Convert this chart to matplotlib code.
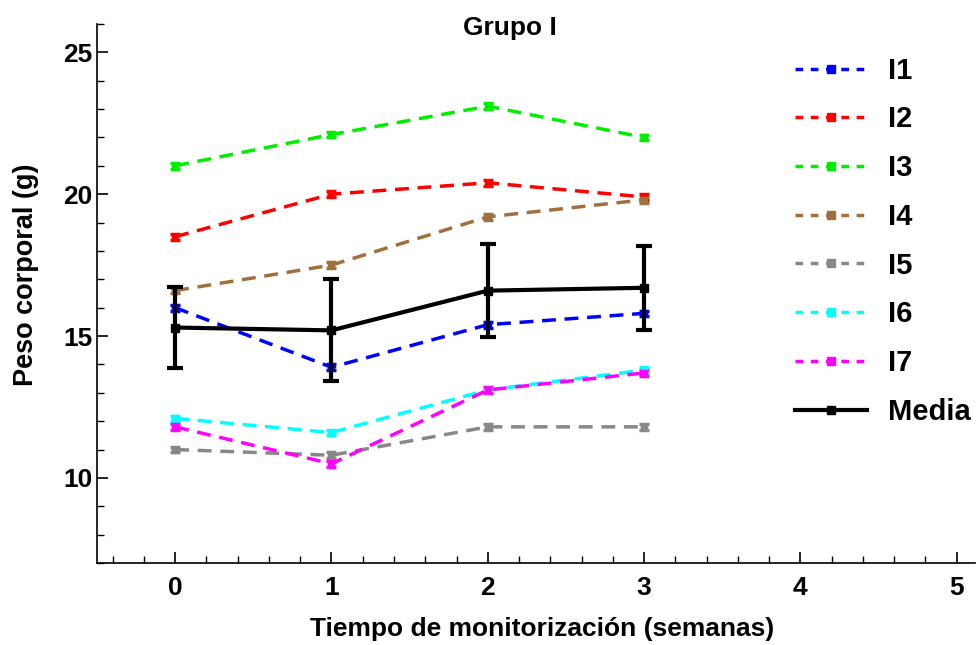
import matplotlib
matplotlib.use("Agg")
import matplotlib.pyplot as plt
from matplotlib.ticker import MultipleLocator

plt.rcParams['font.family'] = ['Liberation Sans', 'DejaVu Sans']
plt.rcParams['font.weight'] = 'bold'

weeks = [0, 1, 2, 3]
labels = ["I1", "I2", "I3", "I4", "I5", "I6", "I7"]
colors = ["#0000ff", "#ff0000", "#00ee00", "#a0703c", "#888888", "#00ffff", "#ff00ff"]

i1 = [16.0, 13.9, 15.4, 15.8]
i2 = [18.5, 20.0, 20.4, 19.9]
i3 = [21.0, 22.1, 23.1, 22.0]
i4 = [16.6, 17.5, 19.2, 19.8]
i5 = [11.0, 10.8, 11.8, 11.8]
i6 = [12.1, 11.6, 13.1, 13.8]
i7 = [11.8, 10.5, 13.1, 13.7]
indiv_err = 0.1

media = [15.3, 15.2, 16.6, 16.7]
media_err = [1.43, 1.8, 1.64, 1.47]

series = [i1, i2, i3, i4, i5, i6, i7]

fig = plt.figure(figsize=(9.76, 6.45), dpi=100)
ax = fig.add_axes([0.0994, 0.127, 0.9, 0.836])

handles = []
for vals, lab, col in zip(series, labels, colors):
    ax.errorbar(weeks, vals, yerr=indiv_err, color=col, ecolor=col, elinewidth=2.5,
                capsize=3.6, capthick=2.5, linestyle=(0, (4, 2.5)), linewidth=2.5,
                marker='s', markersize=5, zorder=2)
    h, = ax.plot([], [], color=col, linestyle=(0, (2.2, 2.2)), linewidth=2.5,
                 marker='s', markersize=6, label=lab)
    handles.append(h)

ax.errorbar(weeks, media, yerr=media_err, color='black', ecolor='black', elinewidth=3,
            capsize=6, capthick=3, linewidth=3, marker='s', markersize=6, zorder=3)
hm, = ax.plot([], [], color='black', linewidth=3, marker='s', markersize=6, label='Media')
handles.append(hm)

ax.set_xlim(-0.5, 5.12)
ax.set_ylim(7, 26)
ax.spines['top'].set_visible(False)
ax.spines['right'].set_visible(False)
ax.spines['left'].set_linewidth(1.2)
ax.spines['bottom'].set_linewidth(1.2)

ax.set_xticks([0, 1, 2, 3, 4, 5])
ax.set_yticks([10, 15, 20, 25])
ax.xaxis.set_minor_locator(MultipleLocator(0.2))
ax.yaxis.set_minor_locator(MultipleLocator(1))
ax.tick_params(which='major', direction='in', length=8, width=1.2, labelsize=19)
ax.tick_params(axis='x', which='major', pad=9)
ax.tick_params(axis='y', which='major', pad=3.5)
ax.tick_params(which='minor', direction='in', length=5, width=1.0)
for t in ax.get_xticklabels() + ax.get_yticklabels():
    t.set_fontweight('bold')

ax.set_xlabel("Tiempo de monitorización (semanas)", fontsize=19, fontweight='bold')
ax.xaxis.set_label_coords((542 - 97) / 878, -0.100)
ax.set_ylabel("Peso corporal (g)", fontsize=19.5, fontweight='bold')
ax.yaxis.set_label_coords((39 - 97) / 878, 0.534)

fig.text(510 / 976, 1 - 35 / 645, "Grupo I", fontsize=19, fontweight='bold',
         ha='center', va='baseline')

leg = fig.legend(handles=handles, loc='upper left', bbox_to_anchor=(0.815, 0.912),
                 frameon=False, fontsize=21, handlelength=2.47, handletextpad=0.72,
                 labelspacing=0.71, numpoints=1, borderaxespad=0, borderpad=0)
for t in leg.get_texts():
    t.set_fontweight('bold')

fig.savefig("out.png", dpi=100)
